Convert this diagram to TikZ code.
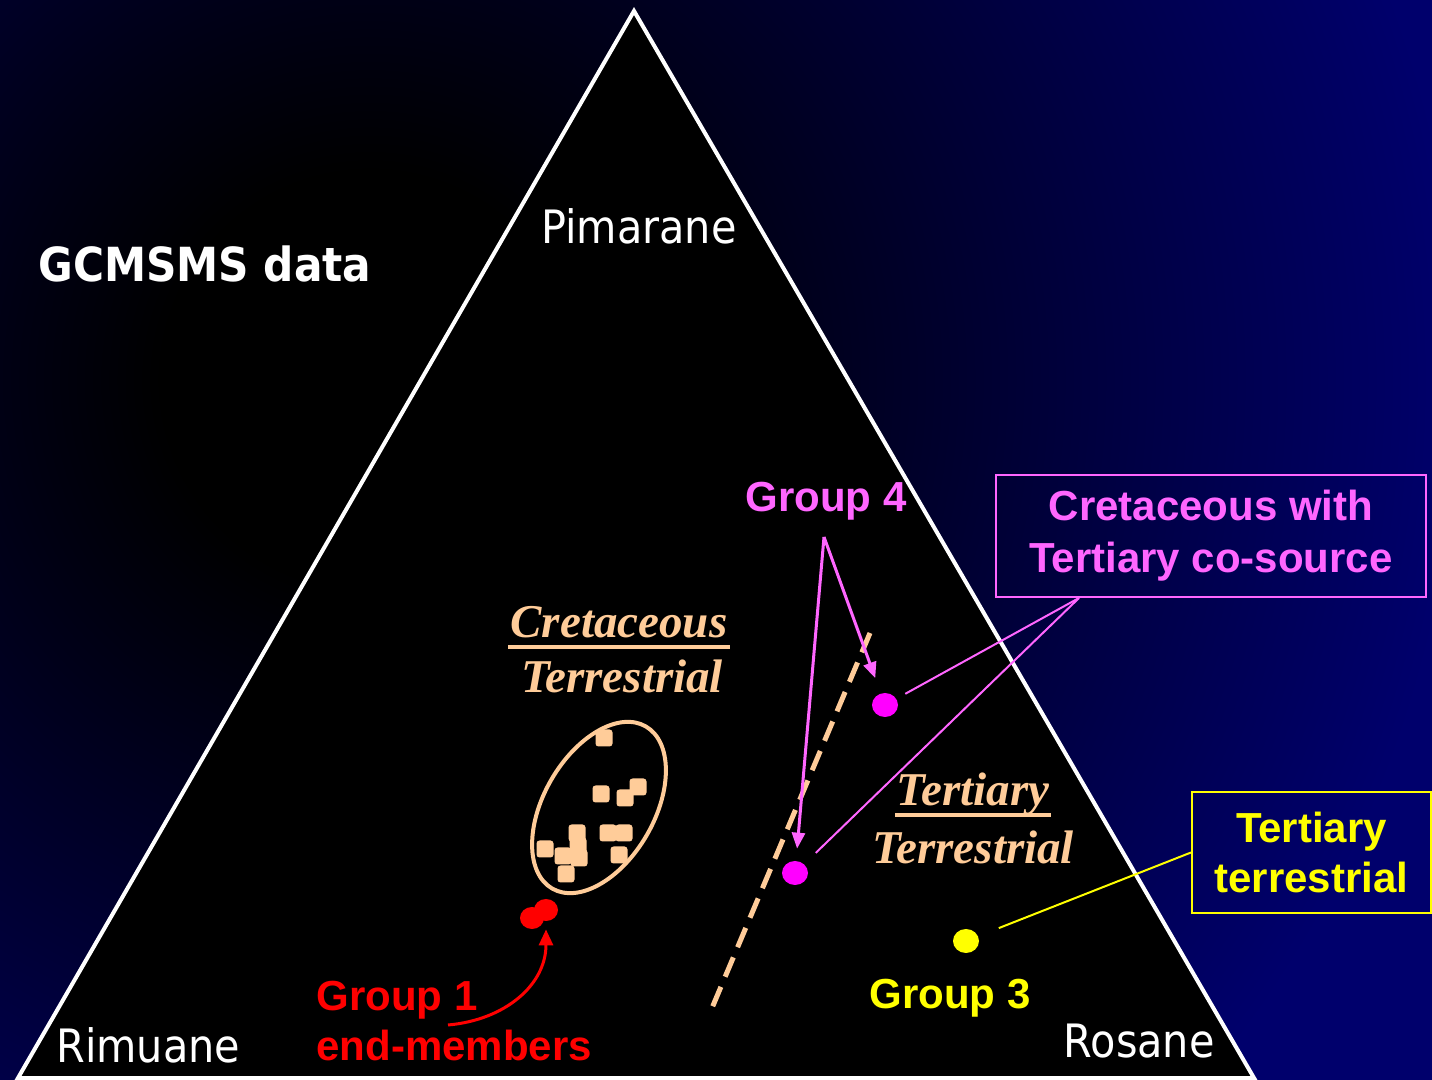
\documentclass[tikz,border=0pt]{standalone}
\usepackage{fontspec}
\setmainfont{Liberation Sans}
\newfontfamily\tahfont{DejaVu Sans Condensed}
\newfontfamily\timfont{Liberation Serif}
\usetikzlibrary{arrows.meta,shapes.geometric}
\definecolor{navybg}{RGB}{0,0,108}
\definecolor{peach}{RGB}{255,204,153}
\definecolor{magdot}{RGB}{255,0,255}
\definecolor{magtxt}{RGB}{255,102,255}
\definecolor{yel}{RGB}{255,255,0}
\definecolor{redc}{RGB}{255,0,0}
\pgfdeclareradialshading{bgshade}{\pgfpoint{0bp}{0bp}}{color(0bp)=(black); color(4bp)=(black); color(21bp)=(navybg); color(50bp)=(navybg)}
\tikzset{
  tahlab/.style={inner sep=0pt, text=white, font=\tahfont\fontsize{23}{27}\selectfont},
  tahbold/.style={inner sep=0pt, text=white, font=\tahfont\bfseries\fontsize{23.5}{28}\selectfont},
  arialb/.style={inner sep=0pt, font=\bfseries\fontsize{21}{25}\selectfont},
  timesbi/.style={inner sep=0pt, text=peach, font=\timfont\bfseries\itshape\fontsize{23.5}{28}\selectfont},
  dotnode/.style={ellipse, inner sep=0pt, minimum width=13pt, minimum height=12pt},
  sq/.style={fill=peach, rounded corners=1.5pt},
  boxnode/.style={draw, line width=1pt, inner sep=0pt, align=center, font=\bfseries\fontsize{21}{26}\selectfont},
}
\begin{document}
\begin{tikzpicture}[x=0.5pt,y=-0.5pt]
\useasboundingbox (0,0) rectangle (1432,1080);
% background
\begin{scope}
  \clip (0,0) rectangle (1432,1080);
  \shade[shading=bgshade] (370,380) circle (1300);
\end{scope}
% triangle
\draw[white, line width=2pt, fill=black, line join=miter] (634,11) -- (1254,1078) -- (18,1078) -- cycle;

% titles
\node[tahbold, anchor=base west] (title) at (38,282) {GCMSMS data};
\node[tahlab, anchor=base west] (pim) at (541,244) {Pimarane};
\node[tahlab, anchor=base west] (rim) at (56,1062) {Rimuane};
\node[tahlab, anchor=base east] (ros) at (1215,1058) {Rosane};

% Cretaceous terrestrial label
\node[timesbi, anchor=base] (cret) at (619,638) {Cretaceous};
\draw[peach, line width=2pt] (508,647) -- (730,647);
\node[timesbi, anchor=base] (cterr) at (622,693) {Terrestrial};

% Tertiary terrestrial label
\node[timesbi, anchor=base] (tert) at (973,806) {Tertiary};
\draw[peach, line width=2pt] (895,815) -- (1051,815);
\node[timesbi, anchor=base] (tterr) at (973,864) {Terrestrial};

% ellipse with squares
\draw[peach, line width=2pt, rotate around={-30:(599,807.5)}] (599,807.5) ellipse [x radius=55.2, y radius=93.6];
\foreach \px/\py in {604/738, 601/794, 638/787, 625/798, 577/833, 578/846, 579/858, 608/833, 624/833, 545/849, 563/856, 619/855, 566/874}
  \fill[sq] (\px-8.5,\py-8.5) rectangle (\px+8.5,\py+8.5);

% dashed line
\coordinate (dtop) at (870,633);
\coordinate (dbot) at (712,1008);
\draw[peach, line width=2.5pt, dash pattern=on 10.5pt off 5.5pt] (dtop) -- (dbot);

% dots
\node[dotnode, fill=redc, minimum width=12pt, minimum height=11pt] (r1) at (532,918) {};
\node[dotnode, fill=redc, minimum width=12pt, minimum height=11pt] (r2) at (546,910) {};
\node[dotnode, fill=magdot] (m1) at (885,705) {};
\node[dotnode, fill=magdot] (m2) at (795,873) {};
\node[dotnode, fill=yel] (y1) at (966,941) {};

% group labels
\node[arialb, text=magtxt, anchor=base west] (g4) at (745,512) {Group 4};
\node[arialb, text=yel, anchor=base west] (g3) at (869,1008) {Group 3};
\node[arialb, text=redc, anchor=base west] (g1a) at (316,1010) {Group 1};
\node[arialb, text=redc, anchor=base west] (g1b) at (316,1060) {end-members};

% group 4 arrows
\coordinate (g4apex) at (824,537);
\draw[magtxt, line width=1.5pt, -{Triangle[length=8pt,width=6.5pt]}, shorten >=8pt] (g4apex) -- (m1);
\draw[magtxt, line width=1.5pt, -{Triangle[length=8pt,width=6.5pt]}, shorten >=6pt] (g4apex) -- (m2);

% group 1 arrow
\coordinate (g1start) at (448,1025);
\draw[redc, line width=1.5pt, -{Triangle[length=8pt,width=7pt]}, shorten >=4pt] (g1start) .. controls (505,1020) and (546,985) .. (r2);

% boxes
\node[boxnode, draw=magtxt, text=magtxt, minimum width=215pt, minimum height=61pt] (box1) at (1211,536) {Cretaceous with\\Tertiary co-source};
\node[boxnode, draw=yel, text=yel, minimum width=119.5pt, minimum height=60.5pt, font=\bfseries\fontsize{21}{25}\selectfont] (box2) at (1311.5,852.5) {Tertiary\\terrestrial};

% box connectors
\coordinate (b1c) at ([xshift=42pt]box1.south west);
\draw[magtxt, line width=1pt, shorten >=5pt] (b1c) -- (m1);
\draw[magtxt, line width=1pt, shorten >=8pt] (b1c) -- (m2);
\draw[yel, line width=1pt, shorten >=11pt] (box2.west) -- (y1);
\end{tikzpicture}
\end{document}
